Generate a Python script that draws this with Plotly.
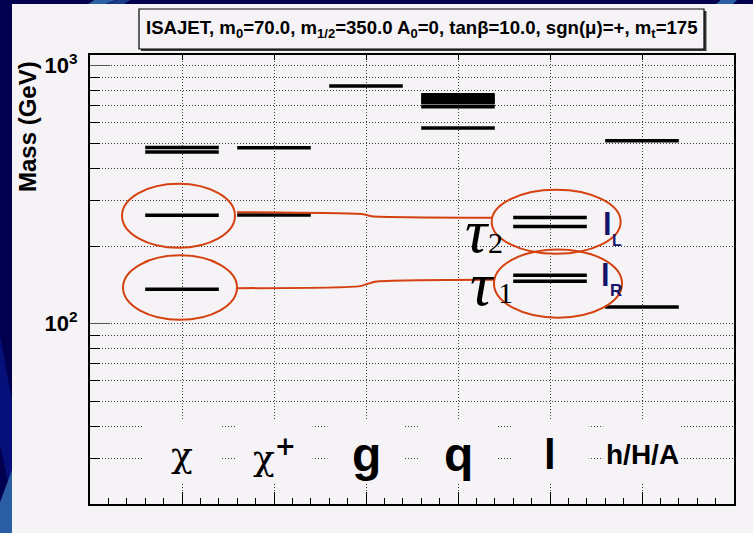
import math
import plotly.graph_objects as go

# ---------------- data ----------------
categories = ["χ", "χ<sup><b>+</b></sup>", "g", "q", "l", "h/H/A"]
cat_pos = [1, 2, 3, 4, 5, 6]
neutralino_masses = [136, 263, 463, 482]
chargino_masses = [264, 481]
gluino_masses = [834]
squark_masses = [771, 757, 743, 729, 719, 693, 573]
slepton_masses = [146, 154, 238, 258]
higgs_masses = [116, 512]
mass_sets = [neutralino_masses, chargino_masses, gluino_masses,
             squark_masses, slepton_masses, higgs_masses]
ytick_vals = [100, 1000]
ytick_text = ["<b>10<sup>2</sup></b>", "<b>10<sup>3</sup></b>"]
minor_vals = [20, 30, 40, 50, 60, 70, 80, 90, 200, 300, 400, 500, 600, 700, 800, 900]
YMIN, YMAX = 20, 1100

# ---------------- style ----------------
PANEL = "#f6f3f7"
NAVY = "#00004e"
RED = "#d4400e"
LABNAVY = "#14146a"
HALF = 0.4
W, H = 753, 533
ML, MR, MT, MB = 90, 19, 55, 29
PW, PH = W - ML - MR, H - MT - MB
LO, HI = math.log10(YMIN), math.log10(YMAX)
SANS = "Liberation Sans, Arial"
SERIF = "Liberation Serif, Times New Roman"


def yp(m):
    return (math.log10(m) - LO) / (HI - LO)


def px2x(px):
    return (px - ML) / PW


def px2y(py):
    return (H - MB - py) / PH


fig = go.Figure()

# mass levels
for c, ms in zip(cat_pos, mass_sets):
    xs, ys = [], []
    for m in ms:
        xs += [c - HALF, c + HALF, None]
        ys += [m, m, None]
    fig.add_trace(go.Scatter(x=xs, y=ys, mode="lines",
                             line=dict(color="black", width=3.5),
                             hoverinfo="skip"))

# red connecting lines (chi -> stau)
conn_upper_x = [1.598, 2.967, 3.065, 4.37]
conn_upper_m = [270.4, 265.7, 261.0, 257.6]
conn_lower_x = [1.598, 2.935, 3.098, 4.391]
conn_lower_m = [137.3, 139.8, 145.5, 148.1]
for xs, ms in [(conn_upper_x, conn_upper_m), (conn_lower_x, conn_lower_m)]:
    fig.add_trace(go.Scatter(x=xs, y=ms, mode="lines",
                             line=dict(color=RED, width=2, shape="spline", smoothing=0.6),
                             hoverinfo="skip"))

shapes = []
# background panel and blue swooshes
shapes.append(dict(type="rect", xref="paper", yref="paper", layer="below",
                   x0=px2x(12), x1=px2x(W + 5), y0=px2y(4), y1=px2y(H + 5),
                   fillcolor=PANEL, line=dict(width=0)))
swooshes = [
    ([(96, -1), (118, -1), (106, 4), (88, 4)], "#2d5fa3"),
    ([(118, -1), (132, -1), (124, 4), (108, 4)], "#1a3a8a"),
    ([(722, -1), (738, -1), (733, 4), (716, 4)], "#2d5fa3"),
    ([(-1, 330), (12, 400), (12, 500), (-1, 440)], "#06107a"),
    ([(-1, 505), (12, 470), (12, 534), (-1, 534)], "#2a5da3"),
]
for pts, col in swooshes:
    path = "M " + " L ".join(f"{px2x(a):.5f},{px2y(b):.5f}" for a, b in pts) + " Z"
    shapes.append(dict(type="path", xref="paper", yref="paper", layer="below",
                       path=path, fillcolor=col, line=dict(width=0)))

# title box with shadow
shapes.append(dict(type="rect", xref="paper", yref="paper", layer="above",
                   x0=px2x(141), x1=px2x(706.5), y0=px2y(11), y1=px2y(51),
                   fillcolor="#3a3a3a", line=dict(width=0)))
shapes.append(dict(type="rect", xref="paper", yref="paper", layer="above",
                   x0=px2x(139), x1=px2x(704), y0=px2y(9), y1=px2y(49),
                   fillcolor=PANEL, line=dict(color="black", width=1.2)))

# label boxes that hide the grid
for c in cat_pos:
    shapes.append(dict(type="rect", xref="x", yref="paper", layer="above",
                       x0=c - 0.42, x1=c + 0.42, y0=yp(24), y1=yp(42),
                       fillcolor=PANEL, line=dict(width=0)))

# ellipses
ellipses = [
    (0.348, 1.576, 197, 349),
    (0.359, 1.598, 103.6, 184),
    (4.366, 5.768, 186.7, 330.7),
    (4.391, 5.783, 105.5, 194),
]
for x0, x1, m0, m1 in ellipses:
    shapes.append(dict(type="circle", xref="x", yref="paper", layer="above",
                       x0=x0, x1=x1, y0=yp(m0), y1=yp(m1),
                       line=dict(color=RED, width=2)))

annotations = []
# title
annotations.append(dict(
    xref="paper", yref="paper", x=px2x(421.5), y=px2y(29.5),
    text="<b>ISAJET, m<sub>0</sub>=70.0, m<sub>1/2</sub>=350.0 A<sub>0</sub>=0, "
         "tanβ=10.0, sgn(μ)=+, m<sub>t</sub>=175</b>",
    showarrow=False, xanchor="center", yanchor="middle",
    font=dict(family=SANS, size=18.6, color="black")))
# y axis title
annotations.append(dict(
    xref="paper", yref="paper", x=px2x(27), y=px2y(127),
    text="<b>Mass (GeV)</b>", textangle=-90, showarrow=False,
    xanchor="center", yanchor="middle",
    font=dict(family=SANS, size=24, color="black")))

# category labels
cat_fonts = [
    dict(family="DejaVu Serif", size=36),
    dict(family="DejaVu Serif", size=36),
    dict(family=SANS, size=48),
    dict(family=SANS, size=48),
    dict(family=SANS, size=42),
    dict(family=SANS, size=28),
]
for c, lab, f in zip(cat_pos, categories, cat_fonts):
    txt = lab if "Serif" in f["family"] else f"<b>{lab}</b>"
    annotations.append(dict(xref="x", yref="y", x=c, y=math.log10(31),
                            text=txt, showarrow=False,
                            xanchor="center", yanchor="middle",
                            font=dict(color="black", **f)))

# stau labels
for tx, ty, sx, sy, digit in [(477, 231, 495, 243, "2"), (482, 284, 505, 293, "1")]:
    annotations.append(dict(xref="x", yref="y", x=(tx - ML) / 92, y=(3 - (ty - 66) / 258),
                            text="<i>τ</i>", showarrow=False, xanchor="center", yanchor="middle",
                            height=50, valign="middle",
                            font=dict(family=SERIF, size=62, color="black")))
    annotations.append(dict(xref="x", yref="y", x=(sx - ML) / 92, y=(3 - (sy - 66) / 258),
                            text=digit, showarrow=False, xanchor="center", yanchor="middle",
                            font=dict(family=SERIF, size=30, color="black")))

# slepton labels
for lx, ly, sx, sy, sub, ss in [(607, 225, 617, 241, "L", 16), (605, 276, 616, 291, "R", 17)]:
    annotations.append(dict(xref="x", yref="y", x=(lx - ML) / 92, y=(3 - (ly - 66) / 258),
                            text="<b>l</b>", showarrow=False, xanchor="center", yanchor="middle",
                            font=dict(family=SANS, size=31, color=LABNAVY)))
    annotations.append(dict(xref="x", yref="y", x=(sx - ML) / 92, y=(3 - (sy - 66) / 258),
                            text=f"<b>{sub}</b>", showarrow=False, xanchor="center", yanchor="middle",
                            font=dict(family=SANS, size=ss, color=LABNAVY)))

GRIDC = "#3c3c3c"
fig.update_layout(
    width=W, height=H, margin=dict(l=ML, r=MR, t=MT, b=MB),
    paper_bgcolor=NAVY, plot_bgcolor=PANEL, showlegend=False,
    shapes=shapes, annotations=annotations,
    xaxis=dict(range=[0, 7], tickmode="array", tickvals=cat_pos,
               showticklabels=False, ticks="inside", ticklen=12, tickwidth=1,
               tickcolor="black", showgrid=True, gridcolor=GRIDC, gridwidth=1,
               griddash="1px,2px", showline=True, linewidth=2, linecolor="black",
               mirror=True, zeroline=False, fixedrange=True,
               minor=dict(tickmode="linear", tick0=0, dtick=0.2, ticks="inside",
                          ticklen=6, tickcolor="black", showgrid=False)),
    xaxis2=dict(range=[0, 7], overlaying="x", side="top", tickmode="array",
                tickvals=cat_pos, showticklabels=False, ticks="inside", ticklen=5,
                tickcolor="black", showgrid=False, zeroline=False, showline=False,
                fixedrange=True),
    yaxis=dict(type="log", range=[LO, HI], tickmode="array", tickvals=ytick_vals,
               ticktext=ytick_text, ticks="inside", ticklen=20, tickwidth=1,
               tickcolor="#555555", showgrid=True, gridcolor=GRIDC, gridwidth=1,
               griddash="1px,2px", showline=True, linewidth=2, linecolor="black",
               mirror=True, zeroline=False, fixedrange=True, ticklabelstandoff=6,
               tickfont=dict(family=SANS, size=22, color="black"),
               minor=dict(tickmode="array", tickvals=minor_vals, ticks="inside",
                          ticklen=10, tickcolor="black", showgrid=True,
                          gridcolor=GRIDC, gridwidth=1, griddash="1px,2px")),
)
fig.add_trace(go.Scatter(x=[None], y=[None], xaxis="x2", mode="lines",
                         hoverinfo="skip"))

fig.write_html("out.html")
